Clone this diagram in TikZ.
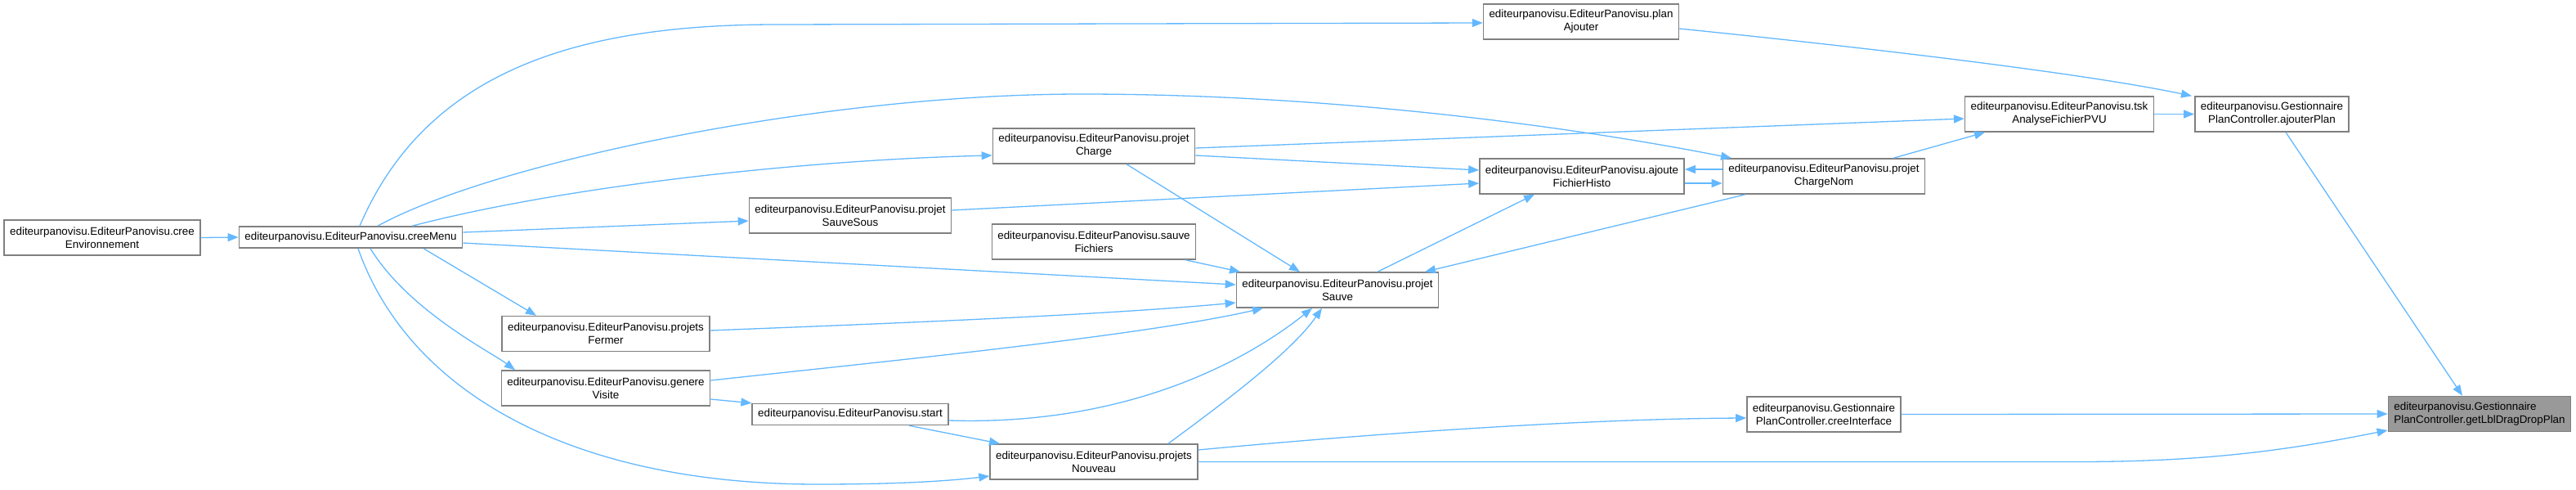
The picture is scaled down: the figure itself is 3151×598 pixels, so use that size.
\documentclass[tikz,border=0pt]{standalone}
\usepackage{fontspec}
\setmainfont{Liberation Sans}
\usetikzlibrary{arrows.meta}
\definecolor{callblue}{HTML}{63B8FF}
\definecolor{boxline}{HTML}{808080}
\definecolor{curfill}{HTML}{999999}

\begin{document}
\begin{tikzpicture}[
    x=1pt, y=-1pt,
    funcbox/.style={
       rectangle, draw=boxline, fill=white, line width=1.5pt,
       align=center, inner xsep=7pt, inner ysep=2pt,
       minimum height=43pt,
       font=\fontsize{13.4}{16}\selectfont
        },
    onebox/.style={funcbox, minimum height=26pt},
    curbox/.style={funcbox, fill=curfill, align=left},
    call/.style={
       draw=callblue, line width=1.3pt,
       -{Triangle[length=13pt,width=10pt]}
        }]

\useasboundingbox (0,0) rectangle (3151,598);

% functions
\node[funcbox] (env) at (125,290.5) {editeurpanovisu.EditeurPanovisu.cree\\Environnement};
\node[onebox] (menu) at (429,290) {editeurpanovisu.EditeurPanovisu.creeMenu};
\node[funcbox] (sauvesous) at (1040,263.5) {editeurpanovisu.EditeurPanovisu.projet\\SauveSous};
\node[funcbox] (fermer) at (741,408) {editeurpanovisu.EditeurPanovisu.projets\\Fermer};
\node[funcbox] (visite) at (741,474.5) {editeurpanovisu.EditeurPanovisu.genere\\Visite};
\node[onebox] (start) at (1040,506.5) {editeurpanovisu.EditeurPanovisu.start};
\node[funcbox] (charge) at (1338,178.5) {editeurpanovisu.EditeurPanovisu.projet\\Charge};
\node[funcbox] (fichiers) at (1338,295.5) {editeurpanovisu.EditeurPanovisu.sauve\\Fichiers};
\node[funcbox] (nouveau) at (1338,564.5) {editeurpanovisu.EditeurPanovisu.projets\\Nouveau};
\node[funcbox] (sauve) at (1636,354.5) {editeurpanovisu.EditeurPanovisu.projet\\Sauve};
\node[funcbox] (plan) at (1934,26.5) {editeurpanovisu.EditeurPanovisu.plan\\Ajouter};
\node[funcbox] (histo) at (1935,215.5) {editeurpanovisu.EditeurPanovisu.ajoute\\FichierHisto};
\node[funcbox] (chargenom) at (2231,215.5) {editeurpanovisu.EditeurPanovisu.projet\\ChargeNom};
\node[funcbox] (iface) at (2231,506.5) {editeurpanovisu.Gestionnaire\\PlanController.creeInterface};
\node[funcbox] (tsk) at (2519,139.5) {editeurpanovisu.EditeurPanovisu.tsk\\AnalyseFichierPVU};
\node[funcbox] (ajouter) at (2779,139.5) {editeurpanovisu.Gestionnaire\\PlanController.ajouterPlan};
\node[curbox] (lbl) at (3033,506) {editeurpanovisu.Gestionnaire\\PlanController.getLblDragDropPlan};

% calls from creeMenu
\draw[call] (env.east) -- (menu.west);
\draw[call] ([xshift=11]menu.north) .. controls (520,90) and (700,30) .. (950,30) -- ([yshift=-1.5]plan.west);
\draw[call] ([xshift=75]menu.north) .. controls (700,225) and (1000,195) .. ([yshift=-11.5]charge.west);
\draw[call] ([xshift=33]menu.north) .. controls (600,200) and (1000,115) .. (1323,115)
   .. controls (1650,115) and (1950,160) .. ([xshift=-113]chargenom.north);
\draw[call] ([yshift=6]menu.east) -- ([yshift=-6.5]sauvesous.west);
\draw[call] ([yshift=-7]menu.east) -- ([yshift=6.5]sauve.west);
\draw[call] ([xshift=89]menu.south) -- ([xshift=-85]fermer.north);
\draw[call] ([xshift=24]menu.south) .. controls (500,380) and (600,430) .. ([xshift=-111]visite.north);
\draw[call] ([xshift=9]menu.south) .. controls (500,480) and (700,592) .. (1000,592)
   .. controls (1100,592) and (1160,588) .. ([yshift=-17.5]nouveau.west);

% middle
\draw[call] ([yshift=6.5]sauvesous.east) -- ([yshift=-8.5]histo.west);
\draw[call] ([yshift=-11.5]charge.east) -- ([yshift=7.5]histo.west);
\draw[call] ([yshift=-2.5]charge.east) -- ([yshift=-5.5]tsk.west);
\draw[call] ([xshift=40]charge.south) -- ([xshift=-46]sauve.north);
\draw[call] ([xshift=112]fichiers.south) -- ([xshift=-119]sauve.north);
\draw[call] ([xshift=49]sauve.north) -- ([xshift=-58]histo.south);
\draw[call] ([xshift=-96]chargenom.south) -- ([xshift=107]sauve.north);
\draw[call] ([xshift=85]chargenom.north) -- ([xshift=-91]tsk.south);
\draw[call] ([yshift=-8.5]histo.east) -- ([yshift=-8.5]chargenom.west);
\draw[call] ([yshift=8.5]chargenom.west) -- ([yshift=8.5]histo.east);
\draw[call] ([yshift=4]fermer.east) .. controls (1100,395) and (1350,385) .. ([yshift=-15.5]sauve.west);
\draw[call] ([yshift=9.5]visite.east) .. controls (1100,440) and (1400,410) .. ([xshift=-91]sauve.south);
\draw[call] ([yshift=-13.5]visite.east) -- (start.north west);
\draw[call] ([yshift=-7.5]start.east) .. controls (1350,520) and (1500,460) .. ([xshift=-31]sauve.south);
\draw[call] ([xshift=91]nouveau.north) .. controls (1500,490) and (1580,430) .. ([xshift=-19]sauve.south);
\draw[call] ([xshift=72]start.south) -- ([xshift=-115]nouveau.north);

% right side
\draw[call] (tsk.east) -- (ajouter.west);
\draw[call] ([yshift=-8.5]plan.east) .. controls (2300,60) and (2550,90) .. ([xshift=-98]ajouter.north);
\draw[call] ([xshift=17]ajouter.south) -- ([xshift=-21]lbl.north);
\draw[call] (iface.east) -- (lbl.west);
\draw[call] ([yshift=14.5]nouveau.east) .. controls (1700,528) and (1950,512) .. ([yshift=-4.5]iface.west);
\draw[call] (nouveau.east) -- (2540,564.5) .. controls (2700,564.5) and (2800,550) .. ([yshift=-20]lbl.west);
\end{tikzpicture}
\end{document}
